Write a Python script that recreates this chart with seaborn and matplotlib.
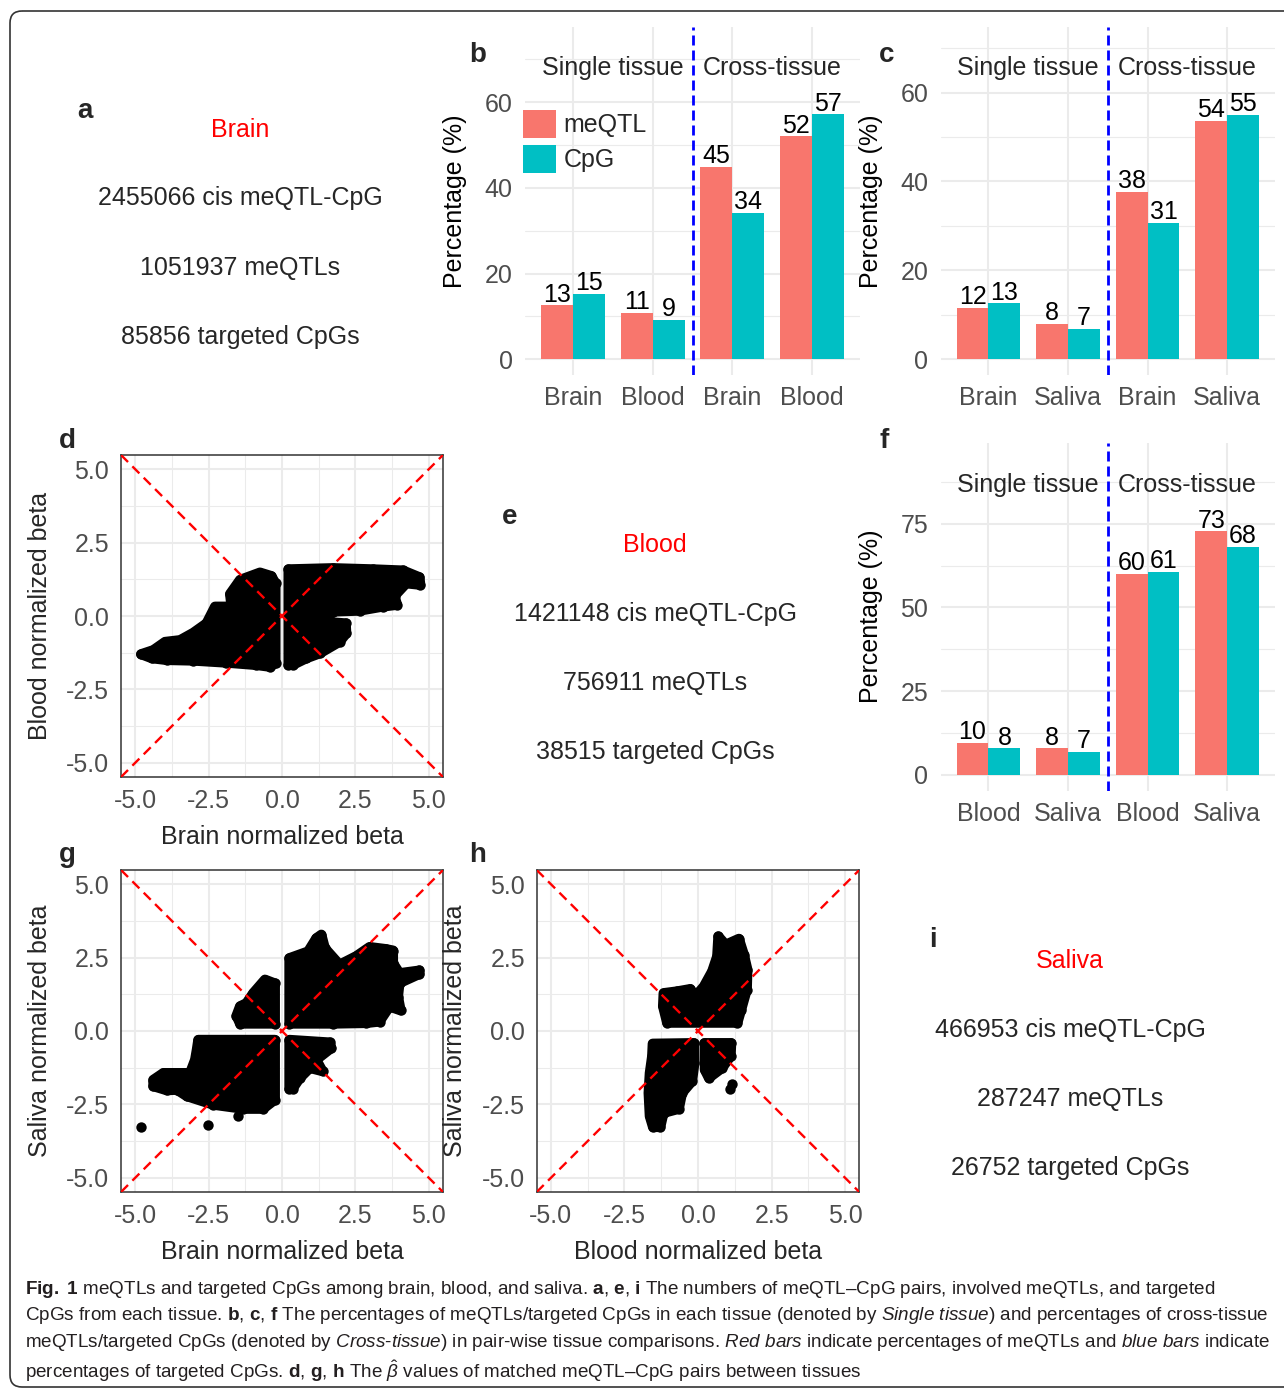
import matplotlib
matplotlib.use("Agg")
import pandas as pd
import matplotlib.pyplot as plt
import seaborn as sns
from matplotlib import font_manager
from matplotlib.patches import FancyBboxPatch

# ------------------------------
# data
# ------------------------------
scope = ['Single tissue', 'Single tissue', 'Cross-tissue', 'Cross-tissue']
bar_types = ['meQTL', 'CpG']

# b: brain / blood
b_tissue = ['Brain', 'Blood', 'Brain', 'Blood']
b_meqtl = [12.6, 10.8, 44.9, 52.0]
b_cpg = [15.3, 9.2, 34.2, 57.2]
# c: brain / saliva
c_tissue = ['Brain', 'Saliva', 'Brain', 'Saliva']
c_meqtl = [11.6, 8.0, 37.6, 53.6]
c_cpg = [12.6, 6.9, 30.7, 55.0]
# f: blood / saliva
f_tissue = ['Blood', 'Saliva', 'Blood', 'Saliva']
f_meqtl = [9.6, 7.9, 60.0, 72.8]
f_cpg = [7.9, 7.0, 60.7, 68.2]

# a, e, i: counts per tissue
count_tissue = ['Brain', 'Blood', 'Saliva']
count_pairs = [2455066, 1421148, 466953]
count_meqtl = [1051937, 756911, 287247]
count_cpg = [85856, 38515, 26752]

# scatter clouds (d, g, h): outline of the dense point clouds + stray points
d_right_x = [0.22, 1.74, 3.10, 4.12, 4.68, 4.71, 4.23, 3.83, 3.92, 3.44, 2.64, 1.74, 1.40, 2.17,
             2.19, 1.96, 1.29, 0.83, 0.36, 0.22]
d_right_y = [1.59, 1.63, 1.59, 1.55, 1.32, 1.06, 1.11, 0.68, 0.38, 0.32, 0.18, 0.15, -0.19, -0.25,
             -0.59, -0.88, -1.27, -1.44, -1.67, -1.67]
d_left_x = [-4.80, -4.38, -3.98, -3.47, -3.02, -2.57, -2.28, -1.72, -1.77, -1.43, -0.75, -0.36,
            -0.22, -0.22, -0.41, -0.87, -1.89, -3.02, -3.92, -4.43]
d_left_y = [-1.30, -1.16, -0.88, -0.82, -0.57, -0.25, 0.32, 0.32, 0.75, 1.23, 1.48, 1.36,
            1.11, -1.61, -1.73, -1.67, -1.59, -1.52, -1.50, -1.44]

g_ur_x = [0.25, 0.89, 1.17, 1.34, 1.46, 1.96, 2.53, 2.98, 3.53, 3.78, 3.78, 4.00, 4.68, 4.68,
          4.00, 3.95, 4.04, 3.66, 3.32, 2.87, 1.74, 0.25]
g_ur_y = [2.48, 2.71, 3.16, 3.28, 2.82, 2.26, 2.55, 2.86, 2.79, 2.74, 2.31, 1.97, 2.06, 1.94,
          1.63, 1.17, 0.70, 0.83, 0.32, 0.27, 0.25, 0.25]
g_ul_x = [-1.55, -1.43, -1.21, -0.98, -0.58, -0.24, -0.24, -1.43]
g_ul_y = [0.52, 0.84, 0.95, 1.29, 1.75, 1.62, 0.25, 0.25]
g_ll_x = [-2.85, -0.24, -0.24, -0.64, -1.32, -2.34, -3.24, -3.58, -3.92, -4.38, -4.38, -4.04,
          -3.13, -2.96, -2.90]
g_ll_y = [-0.30, -0.30, -2.34, -2.65, -2.65, -2.51, -2.22, -2.00, -2.02, -1.88, -1.66, -1.43,
          -1.43, -0.98, -0.63]
g_lr_x = [0.25, 1.63, 1.68, 1.17, 1.38, 0.95, 0.61, 0.36, 0.25]
g_lr_y = [-0.30, -0.39, -0.58, -0.98, -1.37, -1.26, -1.60, -1.97, -1.97]
g_extra_x = [-4.81, -2.51, -1.51]
g_extra_y = [-3.28, -3.19, -2.88]

h_up_x = [-1.17, -0.71, -0.26, -0.09, 0.20, 0.48, 0.65, 0.69, 0.94, 1.39, 1.56, 1.68, 1.66,
          1.47, 1.34, -1.05, -1.19]
h_up_y = [1.29, 1.35, 1.43, 1.18, 1.52, 2.03, 2.54, 3.22, 2.94, 3.14, 2.60, 2.09, 1.41,
          0.73, 0.28, 0.28, 0.84]
h_ll_x = [-1.54, -0.14, -0.12, -0.20, -0.54, -0.65, -1.17, -1.28, -1.53, -1.64, -1.68, -1.64, -1.56]
h_ll_y = [-0.43, -0.41, -1.09, -1.71, -2.11, -2.65, -2.79, -3.27, -3.27, -2.90, -2.11, -1.43, -0.86]
h_lr_x = [0.22, 1.13, 1.11, 0.82, 0.37, 0.23]
h_lr_y = [-0.41, -0.41, -0.86, -1.26, -1.60, -1.32]
h_extra_x = [1.17, 1.09]
h_extra_y = [-1.79, -1.97]

diag_slopes = [1, -1]
beta_ticks = [-5, -2.5, 0, 2.5, 5]
beta_minor = [-3.75, -1.25, 1.25, 3.75]

# ------------------------------
# style
# ------------------------------
RED, TEAL, GRID = '#F8766D', '#00BFC4', '#EBEBEB'
sns.set_style('white')
plt.rcParams['font.family'] = ['Liberation Sans', 'DejaVu Sans']
plt.rcParams['axes.unicode_minus'] = False

available = {f.name for f in font_manager.fontManager.ttflist}
cap_font = 'Liberation Sans Narrow' if 'Liberation Sans Narrow' in available else 'Liberation Sans'
plt.rcParams['mathtext.fontset'] = 'custom'
plt.rcParams['mathtext.rm'] = cap_font
plt.rcParams['mathtext.it'] = cap_font + ':italic'
plt.rcParams['mathtext.bf'] = cap_font + ':bold'

W, H = 1284, 1391
fig = plt.figure(figsize=(W / 100, H / 100), dpi=100)
bg = fig.add_axes([0, 0, 1, 1])
bg.set_xlim(0, W)
bg.set_ylim(H, 0)
bg.axis('off')


def rect(x0, y0, x1, y1):
    # pixel box (top-left origin) -> figure fraction
    return [x0 / W, 1 - y1 / H, (x1 - x0) / W, (y1 - y0) / H]


def bar_panel(box, tissues, meqtl, cpg, ylim, major, minor, show_legend=False):
    ax = fig.add_axes(rect(*box))
    keys = [f'{s}:{t}' for s, t in zip(scope, tissues)]
    df = pd.DataFrame({'key': keys * 2,
                       'type': [bar_types[0]] * 4 + [bar_types[1]] * 4,
                       'pct': meqtl + cpg})
    sns.barplot(data=df, x='key', y='pct', hue='type', order=keys, hue_order=bar_types,
                palette=[RED, TEAL], saturation=1, width=0.8, gap=0, errorbar=None,
                linewidth=0, legend=show_legend, ax=ax)
    for cont in ax.containers:
        ax.bar_label(cont, fmt='{:.0f}', padding=-1, fontsize=18, color='black')
    ax.axvline(1.5, color='blue', lw=2, ls=(0, (3.6, 1.8)))
    ytext = 1.2 * max(meqtl + cpg)
    ax.text(0.5, ytext, 'Single tissue', ha='center', va='center_baseline', fontsize=18)
    ax.text(2.5, ytext, 'Cross-tissue', ha='center', va='center_baseline', fontsize=18)

    ax.set_xlim(-0.6, 3.6)
    ax.set_ylim(*ylim)
    ax.set_xticks(range(4))
    ax.set_xticklabels(tissues)
    ax.set_yticks(major)
    ax.set_yticks(minor, minor=True)
    ax.set_axisbelow(True)
    ax.xaxis.grid(True, which='major', color=GRID, lw=1.5)
    ax.yaxis.grid(True, which='major', color=GRID, lw=1.5)
    ax.yaxis.grid(True, which='minor', color=GRID, lw=0.8)
    for s in ax.spines.values():
        s.set_visible(False)
    ax.tick_params(which='both', length=0, labelsize=18, labelcolor='#4D4D4D')
    ax.tick_params(axis='x', pad=8)
    ax.tick_params(axis='y', pad=9)
    ax.set_xlabel('')
    ax.set_ylabel('Percentage (%)', fontsize=18, color='black')
    ax.yaxis.set_label_coords(-0.208, 0.5)
    ax.yaxis.label.set_va('center')

    if show_legend:
        leg = ax.get_legend()
        handles = leg.legend_handles
        labels = [t.get_text() for t in leg.get_texts()]
        ax.legend(handles, labels, loc='upper left', bbox_to_anchor=(523 / W, 1 - 110 / H),
                  bbox_transform=fig.transFigure, frameon=False, fontsize=18,
                  handlelength=1.32, handleheight=1.32, handletextpad=0.3,
                  labelspacing=0.3, borderpad=0, borderaxespad=0)
    return ax


def scatter_panel(box, clouds, extra_x, extra_y, xlabel, ylabel):
    ax = fig.add_axes(rect(*box))
    for cx, cy in clouds:
        ax.fill(cx, cy, fc='black', ec='black', lw=7.2, joinstyle='round', zorder=2)
        sns.scatterplot(x=cx, y=cy, color='black', s=56, linewidth=0, ax=ax, zorder=3)
    if extra_x:
        sns.scatterplot(x=extra_x, y=extra_y, color='black', s=56, linewidth=0, ax=ax, zorder=3)
    for slope in diag_slopes:
        ax.axline((0, 0), slope=slope, color='red', lw=1.7, ls=(0, (4.2, 2.6)), zorder=4)
    ax.set_xlim(-5.48, 5.48)
    ax.set_ylim(-5.48, 5.48)
    ax.set_xticks(beta_ticks, [f'{t:.1f}' for t in beta_ticks])
    ax.set_yticks(beta_ticks, [f'{t:.1f}' for t in beta_ticks])
    ax.set_xticks(beta_minor, minor=True)
    ax.set_yticks(beta_minor, minor=True)
    ax.set_axisbelow(True)
    ax.grid(True, which='major', color=GRID, lw=1.5)
    ax.grid(True, which='minor', color=GRID, lw=0.75)
    for s in ax.spines.values():
        s.set_color('#333333')
        s.set_linewidth(1.1)
    ax.tick_params(which='major', length=5, width=1.1, color='#333333', labelsize=18,
                   labelcolor='#4D4D4D', pad=3.5)
    ax.tick_params(which='minor', length=0)
    ax.set_xlabel(xlabel, fontsize=18)
    ax.set_ylabel(ylabel, fontsize=18)
    ax.xaxis.set_label_coords(0.5, -0.185)
    ax.xaxis.label.set_va('center')
    ax.yaxis.set_label_coords(-0.252, 0.5)
    ax.yaxis.label.set_va('center')
    return ax


# ------------------------------
# panels
# ------------------------------
bar_panel((525, 26.7, 860, 375), b_tissue, b_meqtl, b_cpg, (-3.67, 77.6),
          [0, 20, 40, 60], [10, 30, 50, 70], show_legend=True)
bar_panel((940.7, 26.7, 1275, 375), c_tissue, c_meqtl, c_cpg, (-3.54, 74.8),
          [0, 20, 40, 60], [10, 30, 50, 70])
bar_panel((940.7, 442.7, 1275, 790.7), f_tissue, f_meqtl, f_cpg, (-4.7, 99.2),
          [0, 25, 50, 75], [12.5, 37.5, 62.5, 87.5])

scatter_panel((121, 455, 443, 777), [(d_right_x, d_right_y), (d_left_x, d_left_y)],
              [], [], 'Brain normalized beta', 'Blood normalized beta')
scatter_panel((121, 870, 443, 1192),
              [(g_ur_x, g_ur_y), (g_ul_x, g_ul_y), (g_ll_x, g_ll_y), (g_lr_x, g_lr_y)],
              g_extra_x, g_extra_y, 'Brain normalized beta', 'Saliva normalized beta')
scatter_panel((536.7, 870, 859.3, 1192), [(h_up_x, h_up_y), (h_ll_x, h_ll_y), (h_lr_x, h_lr_y)],
              h_extra_x, h_extra_y, 'Blood normalized beta', 'Saliva normalized beta')

# count panels a, e, i (centre x, baseline of first line)
count_pos = [(240, 137), (655, 552), (1070, 968)]
for (cx, cy), tis, npair, nq, nc in zip(count_pos, count_tissue, count_pairs, count_meqtl, count_cpg):
    bg.text(cx, cy, tis, color='#FF0000', fontsize=18, ha='center', va='baseline')
    bg.text(cx, cy + 68.5, f'{npair} cis meQTL-CpG', fontsize=18, ha='center', va='baseline')
    bg.text(cx, cy + 138, f'{nq} meQTLs', fontsize=18, ha='center', va='baseline')
    bg.text(cx, cy + 207, f'{nc} targeted CpGs', fontsize=18, ha='center', va='baseline')

# panel letters
letters = [('a', 85, 118), ('b', 478, 62), ('c', 887, 62), ('d', 67, 448), ('e', 510, 524),
           ('f', 884, 448), ('g', 67, 862), ('h', 478, 862), ('i', 933, 947)]
for let, lx, ly in letters:
    bg.text(lx, ly, let, fontsize=20, fontweight='bold', ha='center', va='baseline')

# border
bg.add_patch(FancyBboxPatch((10, 11), 1330, 1376, boxstyle='round,pad=0,rounding_size=12',
                            fc='none', ec='#333333', lw=1.2, clip_on=False))

# caption
caption = [
    r'$\mathbf{Fig.\ 1}$ meQTLs and targeted CpGs among brain, blood, and saliva. '
    r'$\mathbf{a}$, $\mathbf{e}$, $\mathbf{i}$ The numbers of meQTL–CpG pairs, involved meQTLs, and targeted',
    r'CpGs from each tissue. $\mathbf{b}$, $\mathbf{c}$, $\mathbf{f}$ The percentages of meQTLs/targeted CpGs '
    r'in each tissue (denoted by $\mathit{Single\ tissue}$) and percentages of cross-tissue',
    r'meQTLs/targeted CpGs (denoted by $\mathit{Cross}$-$\mathit{tissue}$) in pair-wise tissue comparisons. '
    r'$\mathit{Red\ bars}$ indicate percentages of meQTLs and $\mathit{blue\ bars}$ indicate',
    r'percentages of targeted CpGs. $\mathbf{d}$, $\mathbf{g}$, $\mathbf{h}$ The $\hat{\beta}$ values of '
    r'matched meQTL–CpG pairs between tissues',
]
cap_base = [1294, 1320, 1347, 1378]
cap_texts = [bg.text(25, yb, line, fontsize=15, family=[cap_font, 'DejaVu Sans'], color='#231F20',
                     ha='left', va='baseline') for line, yb in zip(caption, cap_base)]
renderer = fig.canvas.get_renderer()
w2 = cap_texts[1].get_window_extent(renderer).width
size = 15 * 1247 / w2
for t in cap_texts:
    t.set_fontsize(size)

fig.savefig('out.png', dpi=100)
